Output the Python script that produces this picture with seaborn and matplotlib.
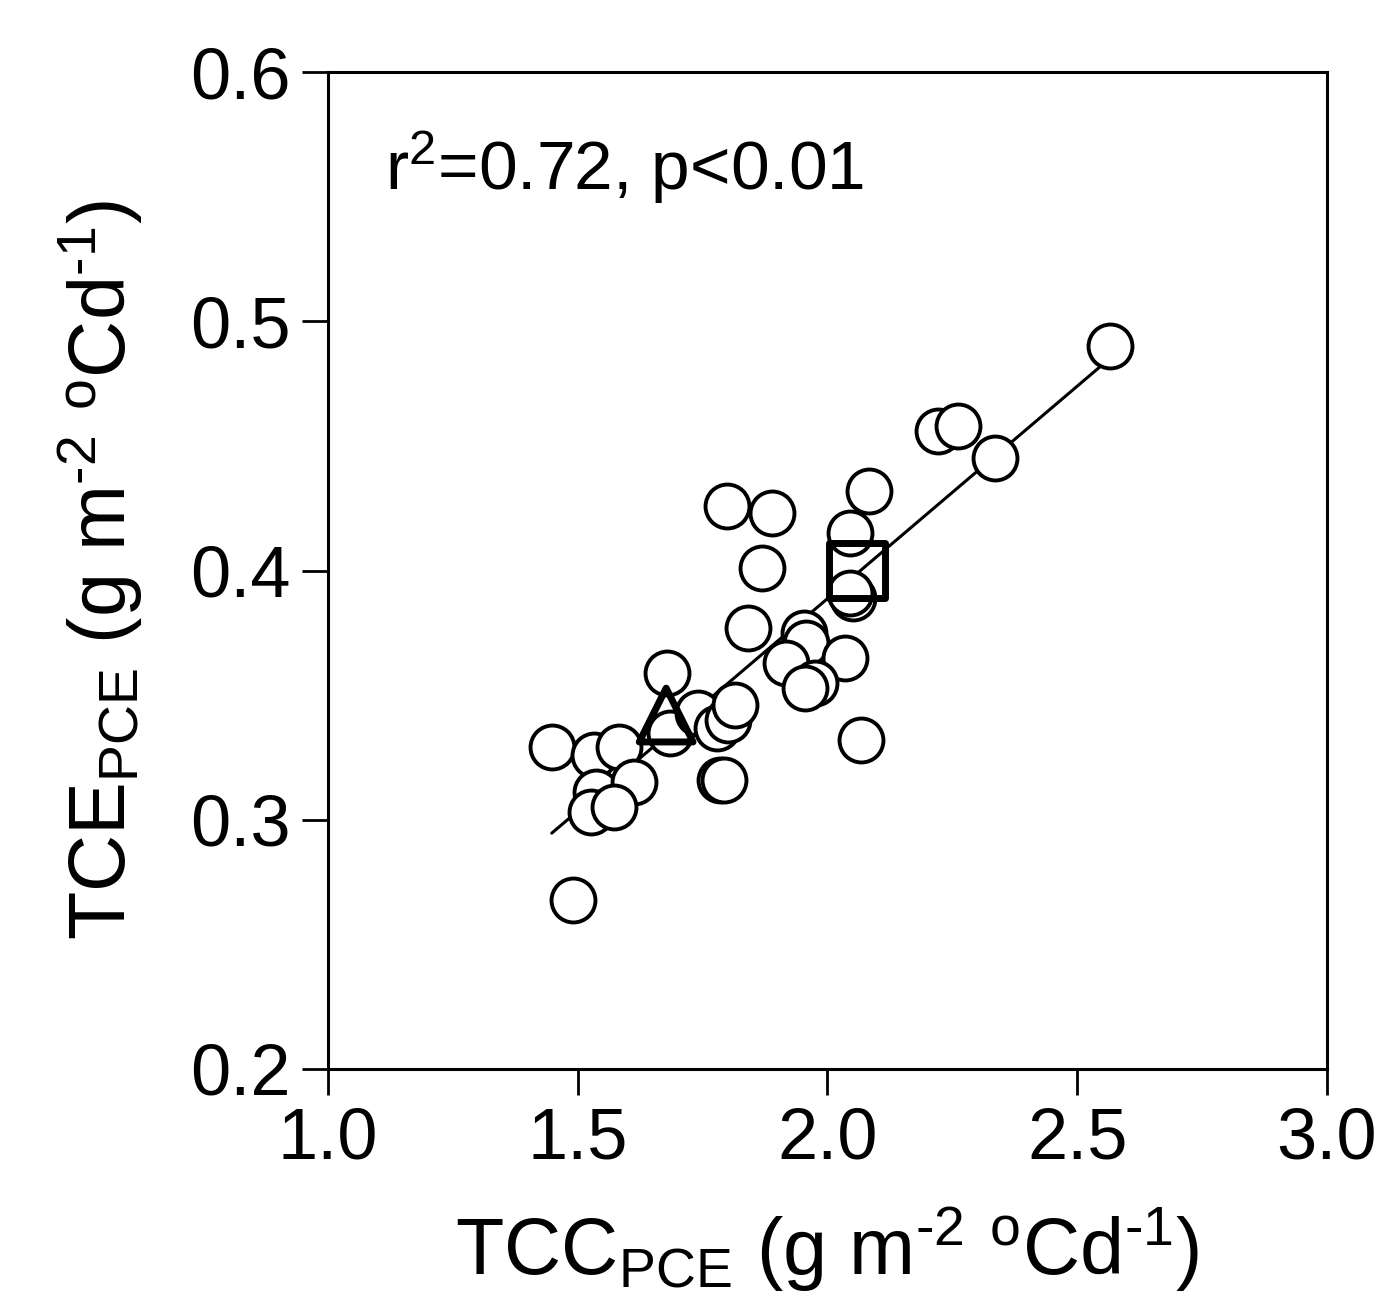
import numpy as np
import pandas as pd
import matplotlib
matplotlib.use("Agg")
import matplotlib.pyplot as plt
import seaborn as sns

# circle points (TCC_PCE, TCE_PCE)
tcc = [2.566, 2.221, 2.261, 2.335, 2.083, 1.799, 1.889, 2.045, 1.869, 2.051, 2.045,
       1.841, 1.953, 1.957, 1.917, 2.035, 1.975, 1.955, 2.067,
       1.679, 1.685, 1.741, 1.779, 1.801, 1.815, 1.785, 1.793,
       1.448, 1.533, 1.583, 1.537, 1.613, 1.527, 1.573, 1.490]
tce = [0.490, 0.456, 0.458, 0.445, 0.432, 0.426, 0.423, 0.415, 0.401, 0.389, 0.391,
       0.377, 0.375, 0.371, 0.363, 0.365, 0.355, 0.353, 0.332,
       0.359, 0.335, 0.343, 0.337, 0.340, 0.346, 0.316, 0.316,
       0.329, 0.326, 0.329, 0.311, 0.315, 0.303, 0.305, 0.268]
# special markers
tri_x, tri_y = [1.677], [0.342]
sq_x, sq_y = [2.059], [0.400]

x_ticks = [1.0, 1.5, 2.0, 2.5, 3.0]
y_ticks = [0.2, 0.3, 0.4, 0.5, 0.6]
annot = r"r$^{2}$=0.72, p<0.01"
units = r" (g m$^{\text{-2}}$ $^{\mathrm{o}}$Cd$^{\text{-1}}$)"

sns.set_style("white")
plt.rcParams['font.family'] = ['Liberation Sans', 'DejaVu Sans']
plt.rcParams['mathtext.fontset'] = 'custom'
plt.rcParams['mathtext.rm'] = 'Liberation Sans'
plt.rcParams['mathtext.it'] = 'Liberation Sans'
plt.rcParams['mathtext.bf'] = 'Liberation Sans'
for k in ['text.color', 'axes.labelcolor', 'xtick.color', 'ytick.color']:
    plt.rcParams[k] = 'black'

fig = plt.figure(figsize=(13.74, 13.0), dpi=100)
ax = fig.add_axes([0.2387, 0.1777, 0.7271, 0.7669])

df = pd.DataFrame({"x": tcc, "y": tce})
sns.regplot(data=df, x="x", y="y", ax=ax, ci=None, scatter=False, truncate=True,
            line_kws=dict(color="black", lw=2.2))
sns.scatterplot(data=df, x="x", y="y", ax=ax, s=1000, facecolor="white",
                edgecolor="black", linewidth=2.8, zorder=3)
ax.scatter(tri_x, tri_y, marker="^", s=1500, facecolor="none", edgecolor="black",
           linewidth=5, zorder=4)
ax.scatter(sq_x, sq_y, marker="s", s=1600, facecolor="none", edgecolor="black",
           linewidth=5, zorder=4)

ax.set_xlim(1.0, 3.0)
ax.set_ylim(0.2, 0.6)
ax.set_xticks(x_ticks)
ax.set_xticklabels([f"{v:.1f}" for v in x_ticks])
ax.set_yticks(y_ticks)
ax.set_yticklabels([f"{v:.1f}" for v in y_ticks])
ax.tick_params(axis="both", direction="out", length=19, width=2, labelsize=52,
               bottom=True, left=True, pad=8)
for sp in ax.spines.values():
    sp.set_visible(True)
    sp.set_color("black")
    sp.set_linewidth(2.2)

ax.set_xlabel(r"TCC$_{\mathrm{PCE}}$" + units, fontsize=57, labelpad=22)
ax.set_ylabel(r"TCE$_{\mathrm{PCE}}$" + units, fontsize=57, labelpad=32)
ax.text(0.057, 0.882, annot, transform=ax.transAxes, fontsize=50, va="baseline", ha="left")

fig.savefig("out.png", dpi=100)
